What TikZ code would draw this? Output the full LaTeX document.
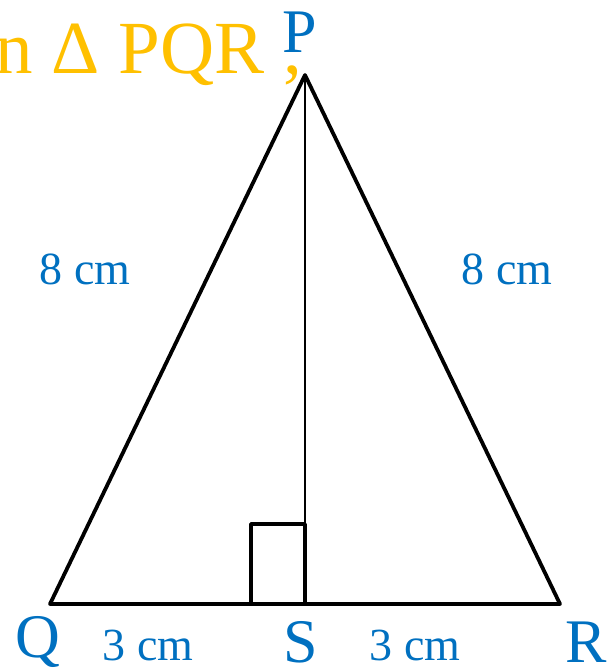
\documentclass[tikz,border=0pt]{standalone}
\usepackage{fontspec}
\setmainfont{Liberation Serif}
\usepackage{xcolor}
\definecolor{lblblue}{HTML}{0070C0}
\definecolor{titleorange}{HTML}{FFC000}
\usetikzlibrary{positioning, calc}

\begin{document}
\begin{tikzpicture}[
  x=1pt, y=-1pt,
  side/.style={line width=3.8pt, line join=round, line cap=round},
  vertexlabel/.style={text=lblblue, inner sep=0pt, font=\fontsize{62}{62}\selectfont},
  lenlabel/.style={text=lblblue, inner sep=0pt, font=\fontsize{46}{46}\selectfont}
]
  \useasboundingbox (0,0) rectangle (611,670);

  \coordinate (P) at (305,75);
  \coordinate (Q) at (50,604);
  \coordinate (R) at (560,604);
  \coordinate (S) at (305,604);

  \draw[side] (Q) -- (P) -- (R) -- cycle;
  \draw[line width=1.8pt] (P) -- (S);
  % right angle mark at S
  \draw[side] ([xshift=-54pt]S) rectangle ([yshift=80pt]S);

  \node[text=titleorange, inner sep=0pt, anchor=base east,
        font=\fontsize{75}{75}\selectfont] (title) at (302,73) {n Δ PQR ,};

  \node[vertexlabel, anchor=base] (lblP) at (300,52) {P};
  \node[vertexlabel, anchor=base] (lblQ) at (38,657) {Q};
  \node[vertexlabel, anchor=base] (lblS) at (301,662) {S};
  \node[vertexlabel, anchor=base] (lblR) at (586,662) {R};

  \node[lenlabel, anchor=base] (lenPQ) at (85,284) {8 cm};
  \node[lenlabel, anchor=base] (lenPR) at (507,284) {8 cm};
  \node[lenlabel, anchor=base] (lenQS) at (148,660) {3 cm};
  \node[lenlabel, anchor=base] (lenSR) at (415,660) {3 cm};
\end{tikzpicture}
\end{document}
